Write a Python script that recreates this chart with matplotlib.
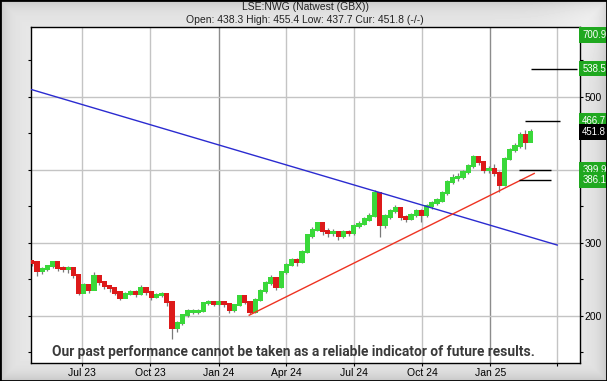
import numpy as np
import pandas as pd
import matplotlib
matplotlib.use("Agg")
import matplotlib.pyplot as plt
from matplotlib.patches import Rectangle

plt.rcParams['font.family'] = ['Liberation Sans', 'DejaVu Sans']

# weekly prices (GBX)
week_start = "2023-04-24"
closes = [273, 261, 264, 268, 273, 266, 264, 265, 256, 232,
          242, 236, 254, 246, 241, 238, 232, 225, 230, 232,
          230, 238, 233, 226, 229, 230, 219, 183, 190, 201,
          206, 206, 207, 218, 219, 217, 219, 216, 208, 215,
          227, 219, 205, 222, 234, 245, 252, 240, 260, 270,
          276, 274, 288, 310, 318, 327, 316, 314, 315, 309,
          315, 313, 323, 326, 332, 337, 368, 325, 336, 344,
          348, 335, 333, 338, 344, 338, 350, 354, 358, 368,
          383, 389, 390, 397, 405, 418, 411, 400, 401, 396,
          380, 415, 427, 433, 447, 438, 451.8]
highs = [277, 272, 267, 270, 275, 272, 268, 268, 266, 257,
         245, 243, 260, 254, 247, 243, 239, 233, 233, 236,
         235, 242, 239, 234, 232, 233, 231, 220, 193, 203,
         209, 210, 210, 219, 222, 221, 222, 220, 216, 217,
         229, 228, 220, 224, 237, 248, 256, 252, 262, 272,
         279, 279, 290, 312, 322, 329, 327, 320, 319, 316,
         318, 318, 326, 330, 335, 341, 372, 366, 339, 347,
         352, 349, 338, 341, 347, 346, 353, 357, 362, 371,
         386, 394, 396, 400, 408, 420, 419, 412, 405, 408,
         398, 417, 430, 437, 452, 455, 455.4]
lows = [268, 255, 258, 262, 266, 262, 260, 259, 252, 228,
        231, 232, 236, 242, 237, 233, 229, 222, 224, 228,
        226, 229, 229, 222, 224, 226, 214, 169, 178, 188,
        199, 203, 203, 205, 215, 214, 215, 212, 204, 206,
        213, 216, 202, 204, 220, 232, 243, 236, 238, 258,
        268, 269, 272, 286, 307, 316, 311, 308, 309, 304,
        306, 309, 311, 320, 324, 330, 335, 308, 320, 333,
        341, 331, 328, 331, 336, 329, 336, 347, 352, 356,
        366, 380, 385, 387, 394, 403, 406, 396, 395, 392,
        370, 378, 413, 425, 430, 428, 437.7]
first_open = 275

# trend lines and targets
blue_line = (["2023-04-23", "2025-04-01"], [510, 297])
red_line = (["2024-02-11", "2025-03-01"], [201, 395])
targets = [538.5, 466.7, 399.9, 386.1]
target_start = ["2025-02-25", "2025-02-17", "2025-02-09", "2025-02-09"]
target_end = ["2025-04-28", "2025-04-05", "2025-03-23", "2025-03-23"]
quarters = ["2023-07-01", "2023-10-01", "2024-01-01", "2024-04-01",
            "2024-07-01", "2024-10-01", "2025-01-01", "2025-04-01"]
quarter_labels = ["Jul 23", "Oct 23", "Jan 24", "Apr 24", "Jul 24", "Oct 24", "Jan 25", ""]

dates = pd.date_range(week_start, periods=len(closes), freq="7D")
closes = np.array(closes)
opens = np.concatenate([[first_open], closes[:-1]])

fig = plt.figure(figsize=(6.07, 3.81), dpi=100)

# bevelled grey frame
bg = fig.add_axes([0, 0, 1, 1], zorder=-5)
H, W = 381, 607
yy, xx = np.mgrid[0:H, 0:W]
d = np.minimum.reduce([xx, yy, W - 1 - xx, H - 1 - yy]).astype(float)
shade = 0.91 - 0.13 * np.exp(-d / 9.0)
shade += 0.05 * np.exp(-((W - xx) ** 2 + yy ** 2) / 2500.0)
bg.imshow(np.clip(shade, 0, 1), cmap="gray", vmin=0, vmax=1, aspect="auto",
          extent=[0, 1, 0, 1])
bg.set_axis_off()
fig.patches.append(Rectangle((0, 0), 1, 1, transform=fig.transFigure,
                             fill=False, ec="black", lw=2))

ax = fig.add_axes([31 / 607, 18.3 / 381, 548.5 / 607, 335.4 / 381])
ax.set_facecolor("white")

qd = pd.to_datetime(quarters)
for q in qd:
    ax.axvline(q, color="#8c8c8c" if q.month == 1 else "#c4c4c4", lw=1, zorder=1)
for v in [200, 300, 400, 500]:
    ax.axhline(v, color="#c4c4c4", lw=1, zorder=1)

# candles
up = closes >= opens
ax.vlines(dates, lows, highs, color="#7a7a7a", lw=0.9, zorder=2)
ax.bar(dates, np.abs(closes - opens) + 3, bottom=np.minimum(opens, closes) - 1.5,
       width=7.0, color=np.where(up, "#3ad83a", "#dd1a1a"), zorder=3, linewidth=0)

ax.plot(pd.to_datetime(blue_line[0]), blue_line[1], color="#2b2bd0", lw=1, zorder=4)
ax.plot(pd.to_datetime(red_line[0]), red_line[1], color="#ee3322", lw=1, zorder=4)
for t, s, e in zip(targets, target_start, target_end):
    ax.hlines(t, pd.Timestamp(s), pd.Timestamp(e), color="black", lw=1, zorder=4)

ax.set_xlim(pd.Timestamp("2023-04-23"), pd.Timestamp("2025-05-01"))
ax.set_ylim(136, 595)

ax.set_xticks(qd)
ax.set_xticklabels(quarter_labels, fontsize=7.5)
ax.tick_params(axis="x", length=2, pad=2)
ax.yaxis.tick_right()
yt = np.arange(150, 600, 50)
ax.set_yticks(yt)
ax.set_yticklabels([str(v) if v in (200, 300, 500) else "" for v in yt], fontsize=7.5)
ax.tick_params(axis="y", length=2, pad=1.5, right=True, left=True, direction="out")
for sp in ax.spines.values():
    sp.set_color("black")
    sp.set_linewidth(1)

# price labels on the right
green = "#1fa81f"
lbls = [(700.9, green, 0.976), (538.5, green, None), (466.7, green, None),
        (451.8, "black", None), (399.9, green, None), (386.1, green, None)]
for val, col, ypos in lbls:
    if ypos is None:
        tr = ax.get_yaxis_transform()
        y = val
    else:
        tr = ax.transAxes
        y = ypos
    ax.text(1.005, y, f"{val:.1f}", transform=tr, color="white", fontsize=6.9,
            va="center", ha="left", clip_on=False, zorder=6,
            bbox=dict(boxstyle="square,pad=0.3", fc=col, ec="none"))

ax.text(0.478, 0.033, "Our past performance cannot be taken as a reliable indicator of future results.",
        transform=ax.transAxes, ha="center", va="center", fontsize=9.9, fontweight="bold",
        color="#3a3a3a", family=["Roboto", "Liberation Sans", "DejaVu Sans"],
        zorder=7)

fig.text(0.504, 1 - 7.3 / 381, "LSE:NWG (Natwest (GBX))", ha="center", va="center",
         fontsize=7.5, color="#222222")
fig.text(0.503, 1 - 20.3 / 381, "Open: 438.3 High: 455.4 Low: 437.7 Cur: 451.8 (-/-)",
         ha="center", va="center", fontsize=7.5, color="#222222")

fig.savefig("out.png", dpi=100)
